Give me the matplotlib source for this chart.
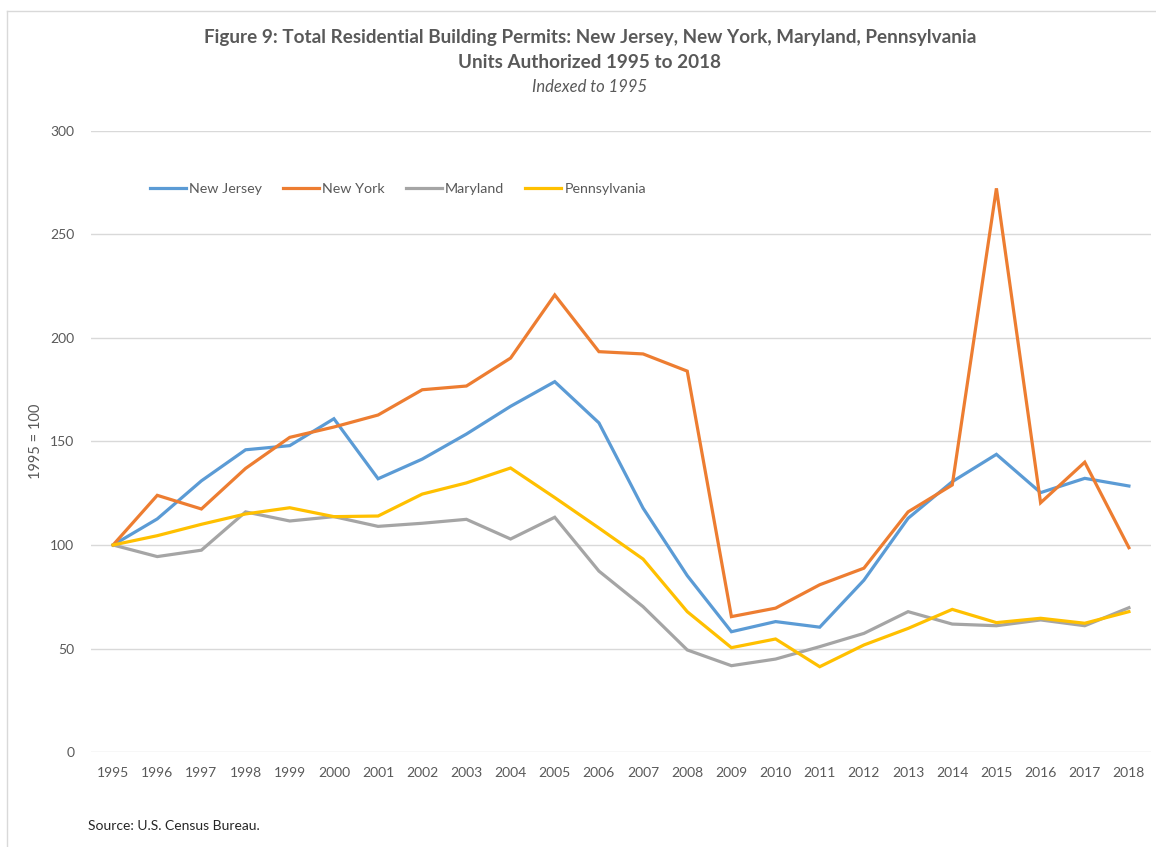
import numpy as np
import matplotlib
matplotlib.use("Agg")
import matplotlib.pyplot as plt
from matplotlib.lines import Line2D

plt.rcParams['font.family'] = ['Lato', 'DejaVu Sans']

years = [str(y) for y in range(1995, 2019)]

new_jersey = [100, 112.6, 131, 146, 148, 161, 132, 141.5, 153.6, 167, 178.9, 159,
              117.8, 85.2, 58.1, 63, 60.3, 83, 112.9, 130.6, 143.8, 125.3, 132.2, 128.5]
new_york = [100, 124, 117.4, 137, 152, 157, 162.8, 175, 176.8, 190.3, 220.8, 193.4,
            192.3, 184, 65.4, 69.5, 80.8, 88.8, 116, 129, 272.3, 120.4, 140, 98.7]
maryland = [100, 94.4, 97.5, 116, 111.6, 113.7, 109, 110.5, 112.4, 102.9, 113.4, 87.4,
            70.2, 49.3, 41.7, 44.9, 50.9, 57.3, 67.8, 61.8, 61, 63.8, 61, 69.7]
pennsylvania = [100, 104.5, 110, 115, 118, 113.7, 114, 124.6, 130, 137.2, 122.9, 108.2,
                93.2, 67.8, 50.4, 54.6, 41.2, 51.7, 59.7, 68.9, 62.5, 64.6, 62.2, 67.8]

series = [("New Jersey", new_jersey, "#5B9BD5"),
          ("New York", new_york, "#ED7D31"),
          ("Maryland", maryland, "#A5A5A5"),
          ("Pennsylvania", pennsylvania, "#FFC000")]

txt = "#595959"
W, H = 1156, 847
fig = plt.figure(figsize=(W / 100, H / 100), dpi=100)
ax = fig.add_axes([91 / W, 1 - 752 / H, (1151 - 91) / W, (752 - 131) / H])

x = np.arange(len(years))
for name, vals, col in series:
    ax.plot(x, vals, color=col, lw=2.3, label=name, solid_joinstyle='miter')

ax.set_xlim(-0.5, len(years) - 0.5)
ax.set_ylim(0, 300)
ax.set_yticks(range(0, 301, 50))
ax.set_xticks(x)
ax.set_xticklabels(years)
ax.yaxis.grid(True, color="#D9D9D9", lw=1)
ax.set_axisbelow(True)
for s in ax.spines.values():
    s.set_visible(False)
ax.tick_params(length=0, colors=txt, labelsize=10)
ax.tick_params(axis='y', pad=12)
ax.tick_params(axis='x', pad=11)
ax.set_ylabel("1995 = 100", color=txt, fontsize=10.5, labelpad=5)

leg = ax.legend(loc='center left', bbox_to_anchor=(150 / W, 1 - 189 / H),
                bbox_transform=fig.transFigure, ncol=4, frameon=False,
                fontsize=10.3, handlelength=2.5, handletextpad=0.25,
                columnspacing=1.45, borderpad=0, borderaxespad=0)
for t in leg.get_texts():
    t.set_color(txt)

fig.text(590 / W, 1 - 38 / H, "Figure 9: Total Residential Building Permits: New Jersey, New York, Maryland, Pennsylvania",
         ha='center', va='center', fontsize=13.6, fontweight='bold', color=txt)
fig.text(590 / W, 1 - 62 / H, "Units Authorized 1995 to 2018",
         ha='center', va='center', fontsize=13.6, fontweight='bold', color=txt)
fig.text(590 / W, 1 - 87 / H, "Indexed to 1995",
         ha='center', va='center', fontsize=12, style='italic', color=txt)
fig.text(88 / W, 1 - 826 / H, "Source: U.S. Census Bureau.",
         ha='left', va='center', fontsize=10, color="#262626")

# outer chart border (top and left edges visible)
fig.add_artist(Line2D([7 / W, 7 / W], [0, 1 - 11 / H], transform=fig.transFigure,
                      color="#D9D9D9", lw=1))
fig.add_artist(Line2D([7 / W, 1], [1 - 11 / H, 1 - 11 / H], transform=fig.transFigure,
                      color="#D9D9D9", lw=1))

fig.savefig("out.png", dpi=100)
